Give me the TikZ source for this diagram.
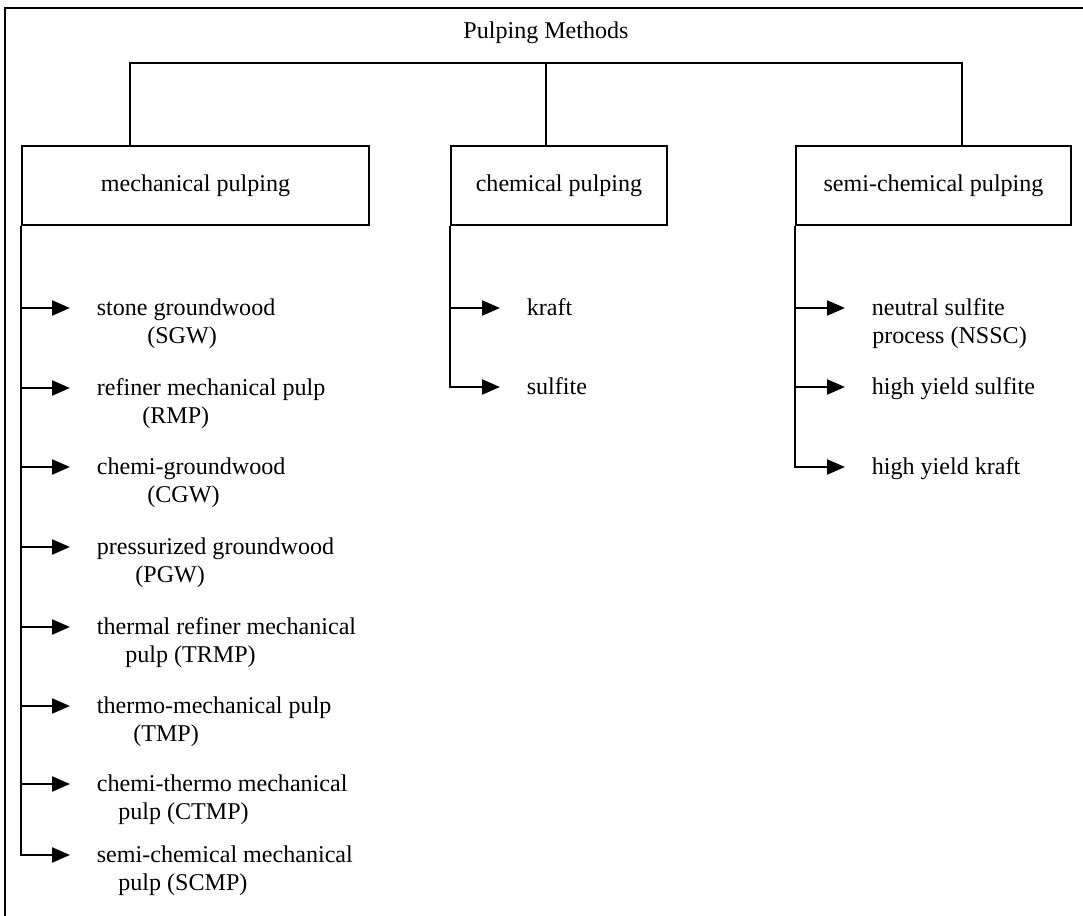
\documentclass[tikz,border=0pt]{standalone}
\usepackage{fontspec}
\setmainfont{Liberation Serif}
\usetikzlibrary{arrows.meta}

\newcommand{\pulpfont}{\fontsize{13.7}{15}\selectfont}

\tikzset{
  box/.style={draw, line width=1.3pt, minimum height=1.58cm, inner sep=0pt, font=\pulpfont},
  item/.style={anchor=west, inner xsep=0.53cm, inner ysep=0pt, text height=12pt, text depth=3pt, font=\pulpfont},
  second/.style={anchor=base west, inner sep=0pt, font=\pulpfont},
  link/.style={line width=1.3pt},
  arr/.style={link, -{Triangle[length=3.6mm,width=3mm]}},
}

\begin{document}
\begin{tikzpicture}[x=0.02cm, y=-0.02cm]
\useasboundingbox (0,0) rectangle (1083,916);
\draw[line width=.8pt] (5,916) -- (5,8) -- (1083,8);

\node[font=\pulpfont] (title) at (546,33) {Pulping Methods};

\node[box, minimum width=6.94cm] (mech) at (195.5,185.5) {mechanical pulping};
\node[box, minimum width=4.32cm] (chem) at (559,185.5) {chemical pulping};
\node[box, minimum width=5.5cm] (semi) at (933.5,185.5) {semi-chemical pulping};

\coordinate (barL) at (130,63);
\coordinate (barM) at (546,63);
\coordinate (barR) at (962,63);
\draw[link] (barL |- mech.north) -- (barL) -- (barR) -- (barR |- semi.north);
\draw[link] (barM) -- (barM |- chem.north);

% mechanical
\foreach \nm/\y/\one/\two/\xx in {
  sgw/308/{stone groundwood}/{(SGW)}/147,
  rmp/388/{refiner mechanical pulp}/{(RMP)}/142,
  cgw/467/{chemi-groundwood}/{(CGW)}/147,
  pgw/547/{pressurized groundwood}/{(PGW)}/135,
  trmp/627/{thermal refiner mechanical}/{pulp (TRMP)}/125,
  tmp/706/{thermo-mechanical pulp}/{(TMP)}/133,
  ctmp/784/{chemi-thermo mechanical}/{pulp (CTMP)}/118} {
  \node[item] (\nm) at (70,\y) {\one};
  \node[second] (\nm-b) at (\xx,\y+35) {\two};
  \draw[arr] (mech.south west |- \nm.west) -- (\nm.west);
}
\node[item] (scmp) at (70,855) {semi-chemical mechanical};
\node[second] (scmp-b) at (118,890) {pulp (SCMP)};
\draw[arr] (mech.south west) |- (scmp.west);

% chemical
\node[item] (kraft) at (500,308) {kraft};
\node[item] (sulfite) at (500,387) {sulfite};
\draw[arr] (chem.south west |- kraft.west) -- (kraft.west);
\draw[arr] (chem.south west) |- (sulfite.west);

% semi-chemical
\node[item] (nssc) at (845,308) {neutral sulfite};
\node[second] (nssc-b) at (872,343) {process (NSSC)};
\node[item] (hys) at (845,387) {high yield sulfite};
\node[item] (hyk) at (845,467) {high yield kraft};
\draw[arr] (semi.south west |- nssc.west) -- (nssc.west);
\draw[arr] (semi.south west |- hys.west) -- (hys.west);
\draw[arr] (semi.south west) |- (hyk.west);
\end{tikzpicture}
\end{document}
